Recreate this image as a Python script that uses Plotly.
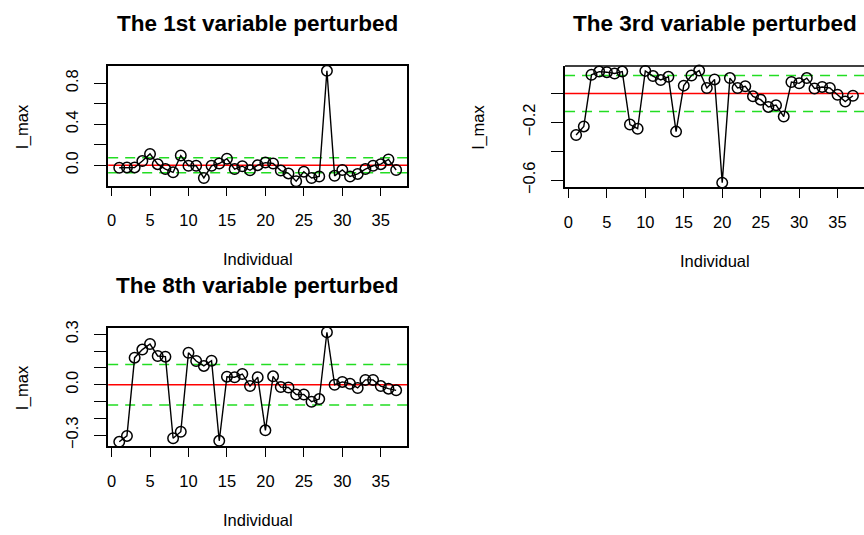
import plotly.graph_objects as go

# ---------------- data ----------------
individuals = list(range(1, 38))

var1_lmax = [-0.025, -0.022, -0.022, 0.040, 0.110, 0.010, -0.038, -0.070, 0.094, -0.006,
             -0.006, -0.125, -0.006, 0.016, 0.063, -0.038, -0.010, -0.050, 0.000, 0.025,
             0.016, -0.053, -0.080, -0.157, -0.063, -0.125, -0.110, 0.920, -0.104, -0.047,
             -0.110, -0.085, -0.038, -0.006, 0.010, 0.056, -0.047]

var3_lmax = [-0.287, -0.228, 0.129, 0.151, 0.147, 0.138, 0.151, -0.215, -0.244, 0.156,
             0.120, 0.093, 0.115, -0.264, 0.054, 0.124, 0.158, 0.038, 0.097, -0.617,
             0.106, 0.038, 0.050, -0.020, -0.043, -0.093, -0.081, -0.160, 0.079, 0.070,
             0.106, 0.034, 0.045, 0.038, -0.009, -0.056, -0.016]

var8_lmax = [-0.339, -0.304, 0.161, 0.209, 0.242, 0.171, 0.167, -0.318, -0.279, 0.190,
             0.141, 0.112, 0.143, -0.333, 0.048, 0.045, 0.064, -0.008, 0.045, -0.271,
             0.050, -0.014, -0.016, -0.058, -0.058, -0.101, -0.085, 0.312, 0.000, 0.017,
             0.006, -0.019, 0.029, 0.029, -0.008, -0.023, -0.033]

titles = ["The 1st variable perturbed", "The 3rd variable perturbed", "The 8th variable perturbed"]
thresholds = [0.073, 0.124, 0.12]
x_tickvals = [0, 5, 10, 15, 20, 25, 30, 35]
y_tickvals = [[0, 0.2, 0.4, 0.6, 0.8],
              [-0.6, -0.4, -0.2, 0.0],
              [-0.3, -0.2, -0.1, 0.0, 0.1, 0.2, 0.3]]
y_ticktext = [["0.0", "", "0.4", "", "0.8"],
              ["\u22120.6", "", "\u22120.2", ""],
              ["\u22120.3", "", "", "0.0", "", "", "0.3"]]
x_label = "Individual"
y_label = "l_max"

# ---------------- layout geometry (pixels) ----------------
W, H = 864, 535
# plot boxes: (left, right, top, bottom)
boxes = [(107.3, 406.7, 61.0, 183.5),
         (564.7, 864.0, 60.7, 185.0),
         (107.3, 406.7, 329.5, 451.0)]
open_right = [False, True, False]   # panel 2's box runs past the picture edge

def px(x):
    return x / W

def py(y):
    return 1 - y / H

FONT = "Liberation Sans, Arial, Helvetica, sans-serif"
GREEN = "#22dd22"

fig = go.Figure()
series = [var1_lmax, var3_lmax, var8_lmax]

annotations = []
shapes = []
layout_axes = {}

xr = [1 - 0.04 * 36, 37 + 0.04 * 36]

for k, (vals, box) in enumerate(zip(series, boxes)):
    n = k + 1
    xa = "x" if n == 1 else f"x{n}"
    ya = "y" if n == 1 else f"y{n}"
    lo, hi = min(vals), max(vals)
    pad = 0.04 * (hi - lo)
    yr = [lo - pad, hi + pad]

    fig.add_trace(go.Scatter(
        x=individuals, y=vals, xaxis=xa, yaxis=ya, mode="lines+markers",
        line=dict(color="black", width=1.4),
        marker=dict(symbol="circle-open", size=10.5, color="black", line=dict(width=1.5)),
        showlegend=False, cliponaxis=False, hoverinfo="skip"))

    l, r, t, b = box
    mirror = not open_right[k]
    layout_axes["xaxis" if n == 1 else f"xaxis{n}"] = dict(
        domain=[px(l), min(px(r), 1.0)], range=xr, anchor=ya,
        tickvals=x_tickvals, ticks="outside", ticklen=9, tickwidth=1.4, tickcolor="black",
        showline=True, linecolor="black", linewidth=1.5, mirror=mirror,
        showgrid=False, zeroline=False, ticklabelstandoff=10,
        tickfont=dict(family=FONT, size=16.5, color="black"))
    layout_axes["yaxis" if n == 1 else f"yaxis{n}"] = dict(
        domain=[py(b), py(t)], range=yr, anchor=xa,
        tickvals=y_tickvals[k], ticktext=y_ticktext[k], tickangle=-90,
        ticks="outside", ticklen=12, tickwidth=1.4, tickcolor="black",
        showline=True, linecolor="black", linewidth=1.5, mirror=mirror,
        showgrid=False, zeroline=False, ticklabelstandoff=10,
        tickfont=dict(family=FONT, size=16.5, color="black"))
    if not mirror:
        shapes.append(dict(type="line", xref=f"{xa} domain", yref=f"{ya} domain",
                           x0=0, x1=1.02, y0=1, y1=1,
                           line=dict(color="black", width=1.5)))

    # reference lines
    shapes.append(dict(type="line", xref=f"{xa} domain", yref=ya, x0=0, x1=1, y0=0, y1=0,
                       line=dict(color="red", width=1.5), layer="below"))
    for s in (1, -1):
        shapes.append(dict(type="line", xref=f"{xa} domain", yref=ya, x0=0, x1=1,
                           y0=s * thresholds[k], y1=s * thresholds[k],
                           line=dict(color=GREEN, width=1.5, dash="10px,7px"), layer="below"))

    cx = (l + r) / 2
    annotations.append(dict(text=f"<b>{titles[k]}</b>", x=px(cx), y=py(t - 44),
                            xref="paper", yref="paper", showarrow=False,
                            xanchor="center", yanchor="middle",
                            font=dict(family=FONT, size=22.5, color="black")))
    annotations.append(dict(text=x_label, x=px(cx), y=py(b + 75.5),
                            xref="paper", yref="paper", showarrow=False,
                            xanchor="center", yanchor="middle",
                            font=dict(family=FONT, size=16.5, color="black")))
    annotations.append(dict(text=y_label, x=px(l - 86.5), y=py((t + b) / 2),
                            xref="paper", yref="paper", showarrow=False, textangle=-90,
                            xanchor="center", yanchor="middle",
                            font=dict(family=FONT, size=16.5, color="black")))

fig.update_layout(
    width=W, height=H, margin=dict(l=0, r=0, t=0, b=0),
    paper_bgcolor="white", plot_bgcolor="white",
    annotations=annotations, shapes=shapes, **layout_axes)

fig.write_html("out.html", config={"displayModeBar": False},
               post_script="document.body.style.margin='0';document.body.style.padding='0';"
                           "document.documentElement.style.overflow='hidden';")
